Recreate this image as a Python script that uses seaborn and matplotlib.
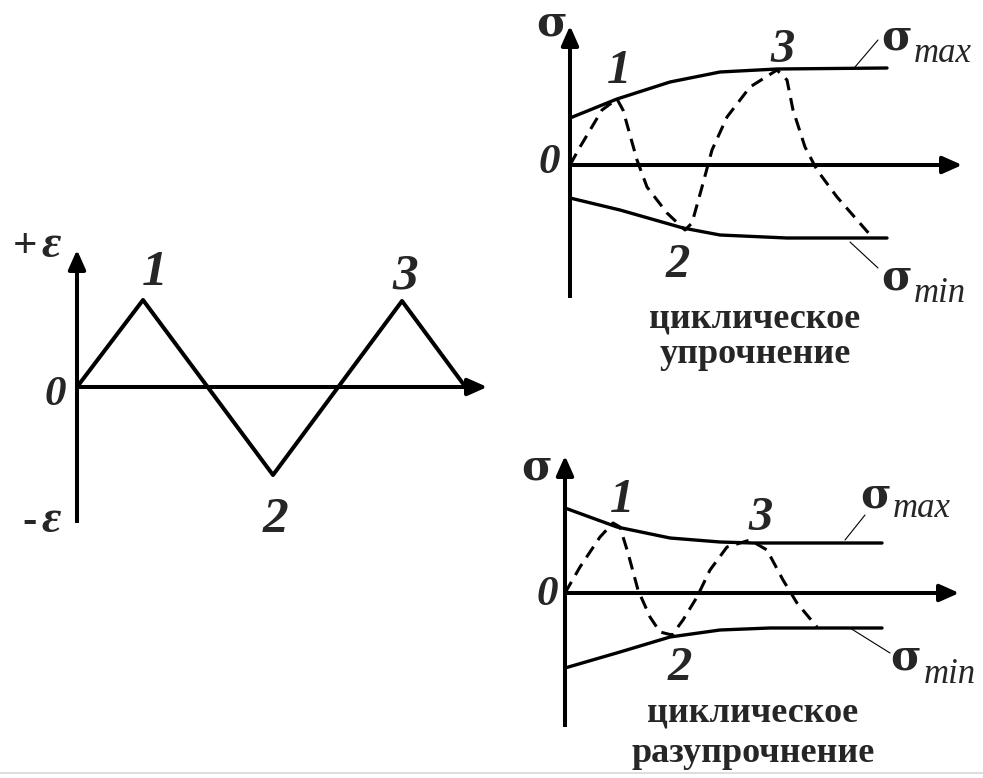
import matplotlib
matplotlib.use("Agg")
import matplotlib.pyplot as plt
import seaborn as sns

sns.set_style("white")
plt.rcParams["font.family"] = ["Liberation Serif", "DejaVu Serif"]

# --- данные (единица = 10 px, начало координат в точке "0" каждой схемы) ---
# деформация: жёсткое нагружение
t_eps = [0, 6.6, 19.6, 32.5, 39.0]
eps = [0, 8.7, -8.8, 8.6, -0.2]

# циклическое упрочнение
hard_max_x = [0, 4.7, 10, 15, 20.7, 31.7]
hard_max_y = [4.7, 6.6, 8.3, 9.3, 9.6, 9.7]
hard_min_x = [0, 5, 11.3, 15, 21.7, 31.7]
hard_min_y = [-3.3, -4.5, -6.3, -7.0, -7.3, -7.3]
hard_sig_x = [0, 1.0, 3.2, 4.7, 5.3, 6.7, 7.7, 9.7, 11.5, 12.2, 13.2, 14.2,
              15.7, 18.0, 20.7, 21.7, 22.3, 23.5, 24.7, 26.7, 30.2]
hard_sig_y = [0, 1.8, 5.5, 6.6, 5.5, 0.5, -2.2, -4.8, -6.5, -5.8, -2.2, 1.5,
              4.8, 7.8, 9.5, 8.5, 5.5, 1.8, -0.5, -3.2, -7.2]

# циклическое разупрочнение
soft_max_x = [0, 5.2, 10.5, 15.5, 18.8, 31.7]
soft_max_y = [8.5, 6.6, 5.5, 5.1, 5.0, 5.0]
soft_min_x = [0, 5.5, 10.5, 15.5, 20.5, 31.7]
soft_min_y = [-7.5, -5.9, -4.4, -3.7, -3.5, -3.5]
soft_sig_x = [0, 1.5, 3.5, 4.8, 5.5, 6.3, 7.3, 8.5, 9.5, 10.7, 11.8, 13.2,
              14.5, 16.2, 18.5, 20.2, 21.8, 23.2, 25.2]
soft_sig_y = [0, 2.6, 5.6, 7.0, 6.6, 4.0, 0.3, -2.4, -3.9, -4.2, -2.7, -0.4,
              2.3, 4.6, 5.3, 4.3, 1.3, -1.0, -3.4]

W, H = 983, 778
fig = plt.figure(figsize=(W / 100, H / 100), dpi=100)

num = dict(fontsize=37, fontweight="bold", fontstyle="italic", ha="center", va="baseline")
sig = dict(fontsize=30, fontweight="bold", family=["DejaVu Serif"], ha="center", va="baseline")
sub = dict(fontsize=25, fontstyle="italic", ha="center", va="baseline")
rus = dict(fontsize=26, fontweight="bold", ha="center", va="baseline")
eps_lbl = dict(fontsize=31, fontweight="bold", ha="center", va="baseline")
arrow = dict(arrowstyle="-|>,head_length=0.45,head_width=0.2", color="black",
             lw=2.9, mutation_scale=26)


def panel(ox, oy):
    ax = fig.add_axes([0, 0, 1, 1], facecolor="none")
    ax.set_xlim(-ox / 10, (W - ox) / 10)
    ax.set_ylim((oy - H) / 10, oy / 10)
    ax.axis("off")
    return ax


def axes_arrows(ax, y_bot, y_top, x_end):
    ax.plot([0, 0], [y_bot, y_top - 1], color="black", lw=2.9, solid_capstyle="butt")
    ax.annotate("", xy=(0, y_top), xytext=(0, y_top - 1.8), arrowprops=arrow)
    ax.plot([0, x_end - 1], [0, 0], color="black", lw=2.9, solid_capstyle="butt")
    ax.annotate("", xy=(x_end, 0), xytext=(x_end - 1.8, 0), arrowprops=arrow)


# левая схема: деформация
ax1 = panel(77, 387)
axes_arrows(ax1, -13.6, 14.0, 41.3)
sns.lineplot(x=t_eps, y=eps, ax=ax1, color="black", lw=2.9, sort=False)
ax1.text(-5.2, 13.0, "+", **eps_lbl)
ax1.text(-2.6, 13.0, "ε", **{**eps_lbl, "fontstyle": "italic", "fontsize": 34})
ax1.text(-4.7, -14.5, "-", **eps_lbl)
ax1.text(-2.6, -14.5, "ε", **{**eps_lbl, "fontstyle": "italic", "fontsize": 34})
ax1.text(7.8, 10.2, "1", **num)
ax1.text(32.8, 9.9, "3", **num)
ax1.text(19.9, -14.5, "2", **num)
ax1.text(-2.2, -1.8, "0", **{**num, "fontsize": 31})

# правая верхняя схема: упрочнение
ax2 = panel(570, 165)
axes_arrows(ax2, -13.3, 14.2, 39.5)
sns.lineplot(x=hard_max_x, y=hard_max_y, ax=ax2, color="black", lw=2.4, sort=False)
sns.lineplot(x=hard_min_x, y=hard_min_y, ax=ax2, color="black", lw=2.4, sort=False)
sns.lineplot(x=hard_sig_x, y=hard_sig_y, ax=ax2, color="black", lw=2.2, sort=False,
             dashes=False, linestyle=(0, (4.2, 2.6)))
ax2.plot([28.5, 30.8], [9.8, 12.5], color="black", lw=0.8)
ax2.plot([28.0, 30.8], [-7.7, -10.3], color="black", lw=0.8)
ax2.text(-1.8, 13.0, "σ", **sig)
ax2.text(4.9, 8.2, "1", **{**num, "fontsize": 35})
ax2.text(21.3, 10.3, "3", **{**num, "fontsize": 35})
ax2.text(10.8, -11.2, "2", **{**num, "fontsize": 35})
ax2.text(-2.1, -0.8, "0", **{**num, "fontsize": 31})
ax2.text(32.7, 11.5, "σ", **sig)
ax2.text(37.3, 10.3, "max", **sub)
ax2.text(32.7, -12.5, "σ", **sig)
ax2.text(37.0, -13.7, "min", **sub)
ax2.text(18.5, -16.3, "циклическое", **rus)
ax2.text(18.5, -19.8, "упрочнение", **rus)

# правая нижняя схема: разупрочнение
ax3 = panel(565, 593)
axes_arrows(ax3, -13.4, 14.0, 39.7)
sns.lineplot(x=soft_max_x, y=soft_max_y, ax=ax3, color="black", lw=2.4, sort=False)
sns.lineplot(x=soft_min_x, y=soft_min_y, ax=ax3, color="black", lw=2.4, sort=False)
sns.lineplot(x=soft_sig_x, y=soft_sig_y, ax=ax3, color="black", lw=2.2, sort=False,
             dashes=False, linestyle=(0, (4.2, 2.6)))
ax3.plot([28.0, 30.0], [5.3, 7.8], color="black", lw=0.8)
ax3.plot([28.5, 32.5], [-3.5, -6.0], color="black", lw=0.8)
ax3.text(-2.8, 11.3, "σ", **sig)
ax3.text(5.7, 8.1, "1", **{**num, "fontsize": 35})
ax3.text(19.6, 6.3, "3", **{**num, "fontsize": 35})
ax3.text(11.5, -8.7, "2", **{**num, "fontsize": 35})
ax3.text(-1.8, -1.2, "0", **{**num, "fontsize": 31})
ax3.text(31.1, 8.6, "σ", **sig)
ax3.text(35.7, 7.6, "max", **sub)
ax3.text(34.1, -7.7, "σ", **sig)
ax3.text(38.5, -9.0, "min", **sub)
ax3.text(18.8, -12.9, "циклическое", **rus)
ax3.text(18.8, -16.9, "разупрочнение", **rus)

# светлая линия внизу
ax3.plot([-56.5, 41.8], [-18.0, -18.0], color="#d8d8d8", lw=1.2)

fig.savefig("out.png", dpi=100)
